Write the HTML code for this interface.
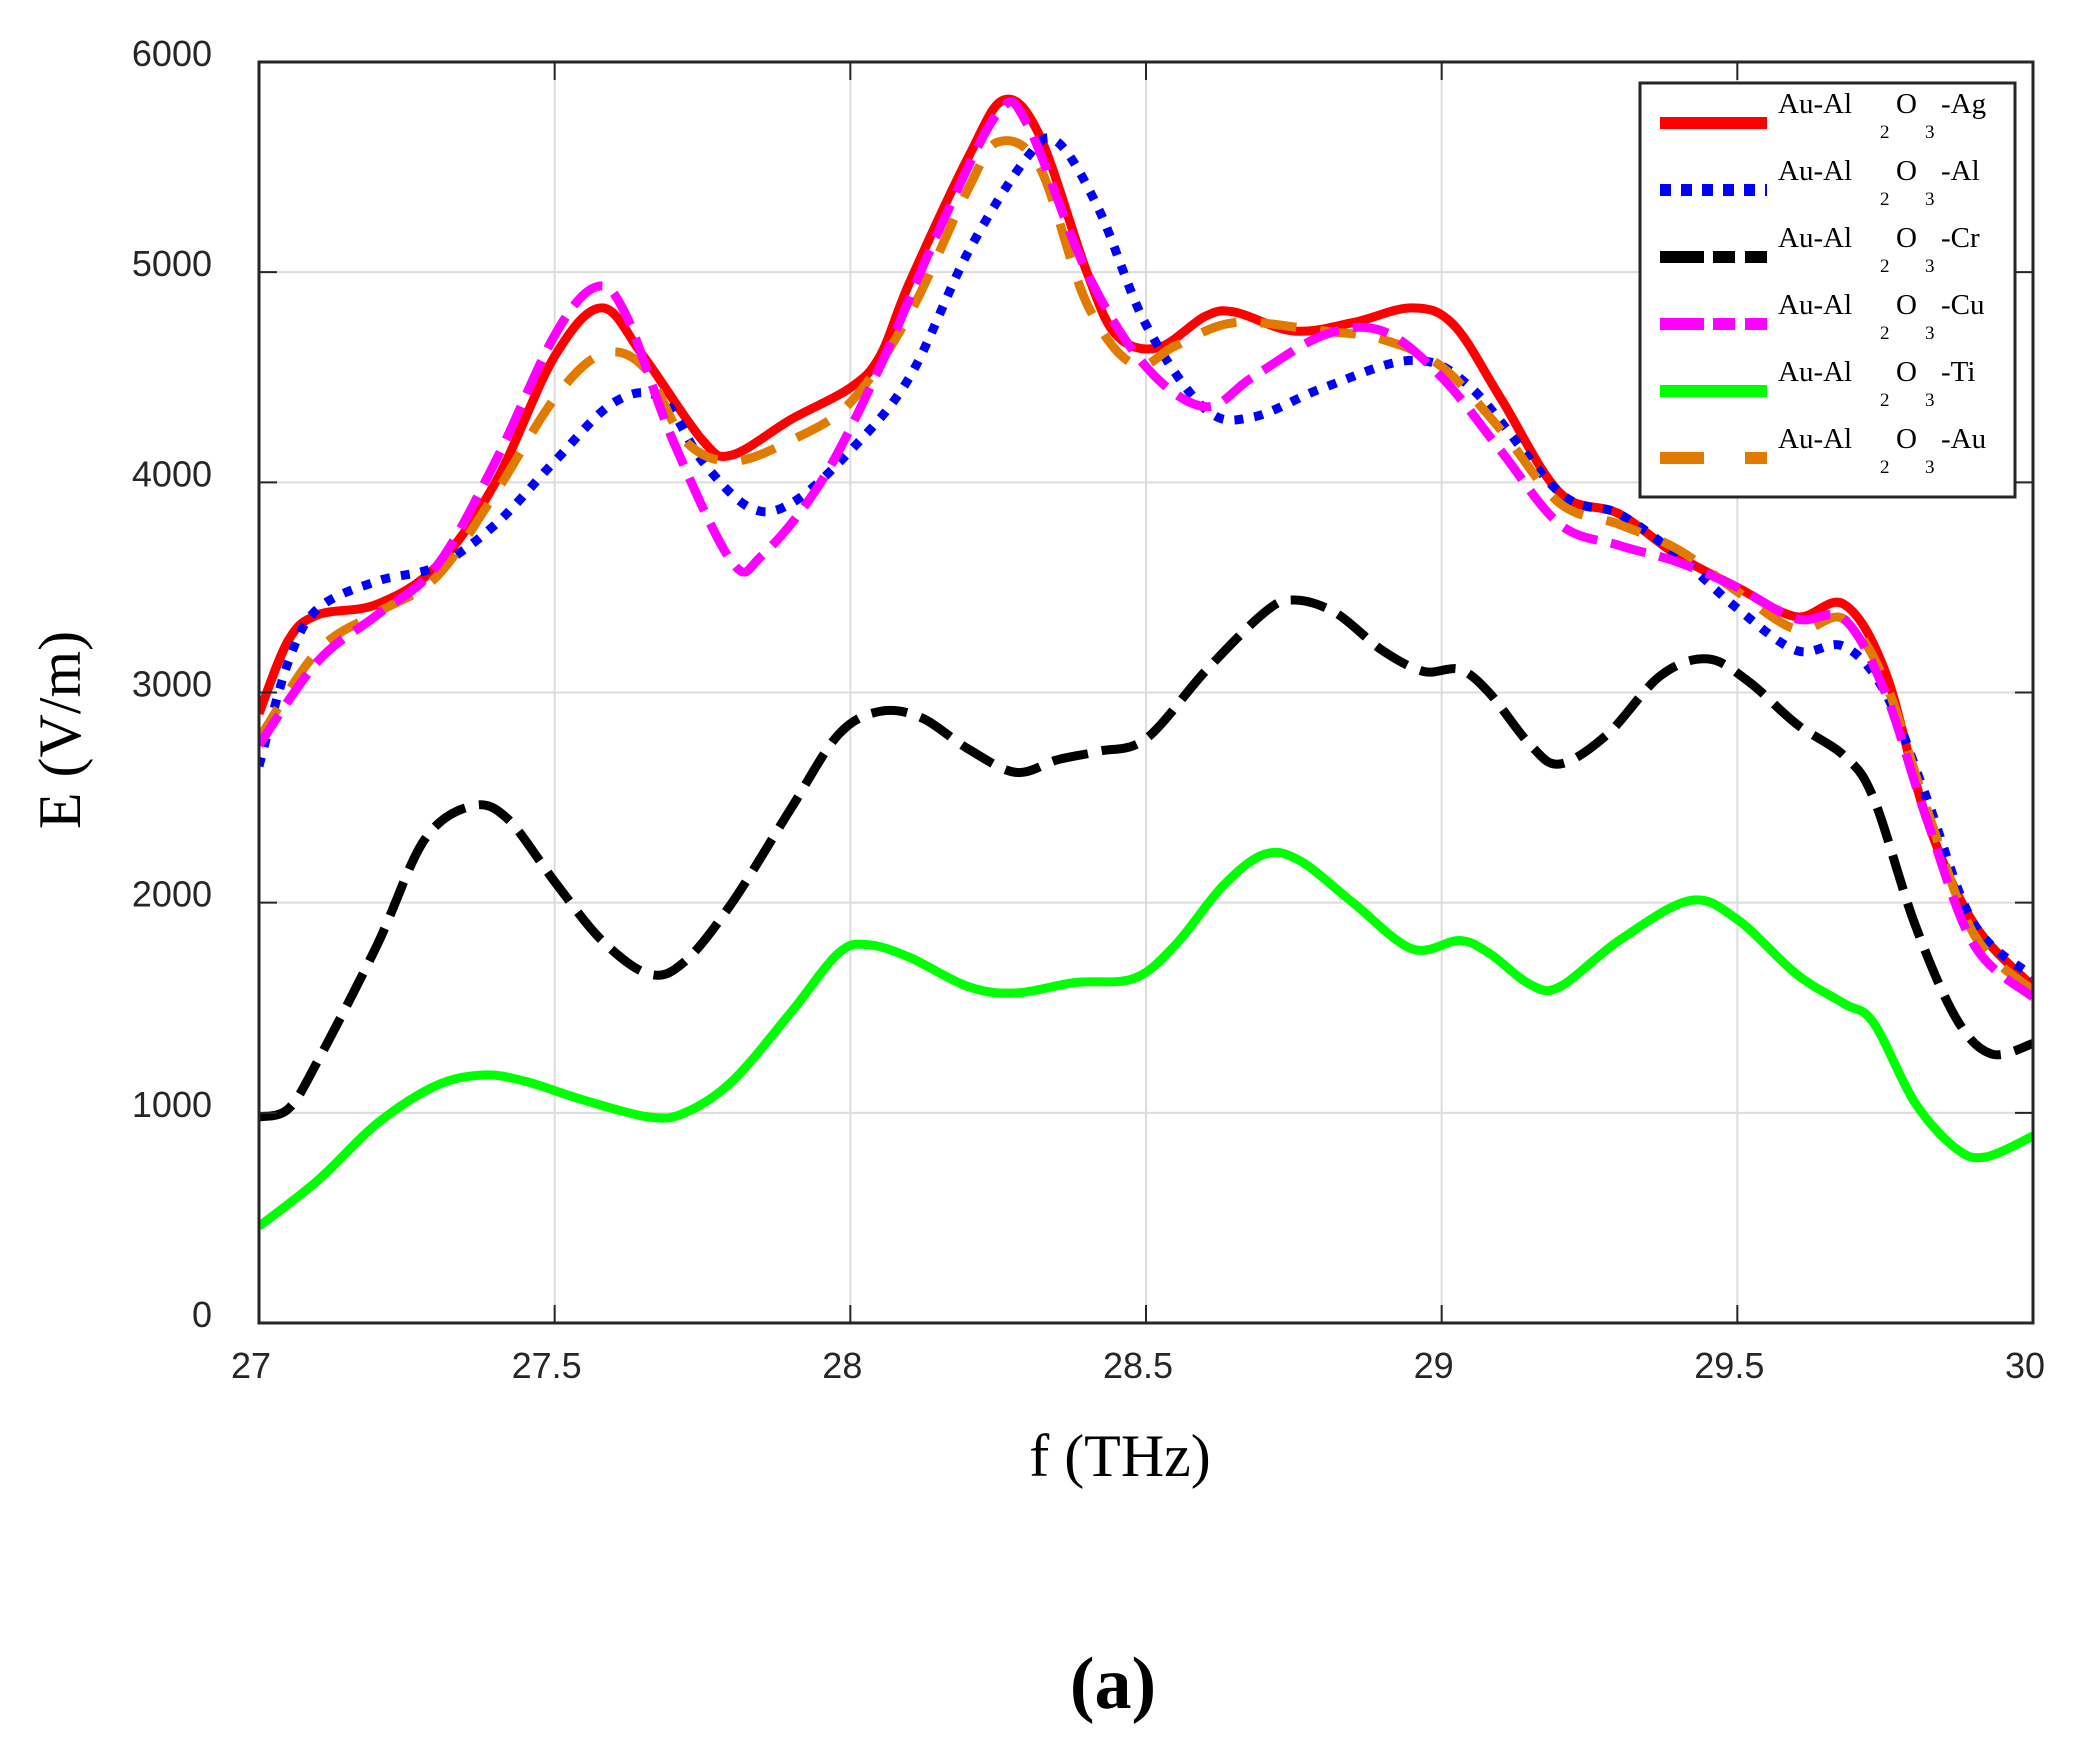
<!DOCTYPE html>
<html><head><meta charset="utf-8"><style>
body{margin:0;background:#fff}
svg{display:block}
.t{font-family:"Liberation Sans",sans-serif;font-size:36px;fill:#262626}
.s{font-family:"Liberation Serif",serif;fill:#000}
</style></head><body>
<svg id="c" width="2079" height="1742" xmlns="http://www.w3.org/2000/svg">
<defs><clipPath id="cp"><rect x="259" y="62" width="1774" height="1261"/></clipPath></defs>
<g id="grid" stroke="#dcdcdc" stroke-width="2"></g>
<g id="series" clip-path="url(#cp)" fill="none" stroke-width="9" stroke-linejoin="round"></g>
<rect x="259" y="62" width="1774" height="1261" fill="none" stroke="#262626" stroke-width="3"/>
<g id="ticks" stroke="#262626" stroke-width="2"></g>
<g id="labels"></g>
<text class="s" font-size="60" transform="translate(80,730) rotate(-90)" text-anchor="middle">E (V/m)</text>
<text class="s" font-size="60" x="1120" y="1476" text-anchor="middle">f (THz)</text>
<text class="s" font-size="74" font-weight="bold" x="1113" y="1708" text-anchor="middle">(a)</text>
<rect x="1640" y="83" width="375" height="414" fill="#fff" stroke="#262626" stroke-width="3"/>
<g id="leg"></g>
</svg>
<script>
const X=x=>259+(x-27)/3*1774, Y=y=>1323-y/6000*1261;
const ns="http://www.w3.org/2000/svg";
function el(p,t,a,txt){const e=document.createElementNS(ns,t);for(const k in a)e.setAttribute(k,a[k]);if(txt!==undefined)e.textContent=txt;document.getElementById(p).appendChild(e);return e;}
for(let i=1;i<6;i++){const x=X(27+i*0.5);el('grid','line',{x1:x,x2:x,y1:62,y2:1323});}
for(let j=1;j<6;j++){const y=Y(j*1000);el('grid','line',{x1:259,x2:2033,y1:y,y2:y});}
for(let i=0;i<=6;i++){const x=X(27+i*0.5);el('ticks','line',{x1:x,x2:x,y1:1323,y2:1305});el('ticks','line',{x1:x,x2:x,y1:62,y2:80});
 el('labels','text',{class:'t',x:x-8,y:1378,'text-anchor':'middle'},String(27+i*0.5));}
for(let j=0;j<=6;j++){const y=Y(j*1000);el('ticks','line',{x1:259,x2:277,y1:y,y2:y});el('ticks','line',{x1:2033,x2:2015,y1:y,y2:y});
 el('labels','text',{class:'t',x:212,y:y+4,'text-anchor':'end'},String(j*1000));}
const D={
red:[[27,2900],[27.05,3250],[27.1,3370],[27.2,3420],[27.3,3600],[27.4,4000],[27.5,4600],[27.58,4830],[27.65,4600],[27.75,4200],[27.8,4130],[27.9,4300],[28,4450],[28.05,4600],[28.1,4950],[28.2,5550],[28.26,5820],[28.32,5650],[28.4,5000],[28.45,4700],[28.52,4640],[28.6,4790],[28.65,4810],[28.75,4720],[28.85,4760],[28.95,4830],[29.02,4750],[29.1,4400],[29.2,3950],[29.3,3850],[29.4,3650],[29.5,3500],[29.6,3360],[29.68,3420],[29.75,3100],[29.82,2400],[29.9,1900],[30,1600]],
blue:[[27,2650],[27.05,3150],[27.1,3400],[27.2,3530],[27.3,3600],[27.4,3800],[27.5,4100],[27.6,4380],[27.68,4400],[27.75,4100],[27.83,3880],[27.9,3900],[28,4150],[28.1,4500],[28.2,5100],[28.3,5550],[28.35,5620],[28.42,5300],[28.5,4750],[28.6,4350],[28.68,4310],[28.8,4450],[28.95,4580],[29.05,4450],[29.2,3950],[29.3,3850],[29.4,3650],[29.5,3400],[29.6,3200],[29.68,3220],[29.75,3000],[29.82,2500],[29.9,1900],[30,1650]],
mag:[[27,2750],[27.1,3150],[27.2,3370],[27.3,3600],[27.4,4100],[27.5,4700],[27.57,4930],[27.62,4800],[27.7,4200],[27.8,3620],[27.85,3650],[27.95,4000],[28.05,4550],[28.15,5200],[28.25,5760],[28.3,5700],[28.4,5000],[28.5,4550],[28.6,4360],[28.68,4500],[28.8,4700],[28.9,4720],[29,4500],[29.1,4150],[29.2,3800],[29.3,3700],[29.4,3620],[29.5,3500],[29.6,3350],[29.68,3350],[29.75,3000],[29.82,2400],[29.9,1800],[30,1550]],
org:[[27,2780],[27.1,3200],[27.2,3380],[27.3,3550],[27.4,3950],[27.5,4400],[27.58,4610],[27.65,4550],[27.72,4200],[27.8,4100],[27.9,4200],[28,4380],[28.1,4800],[28.2,5400],[28.25,5620],[28.32,5500],[28.4,4850],[28.48,4560],[28.55,4650],[28.65,4760],[28.8,4720],[28.9,4680],[29,4550],[29.1,4250],[29.2,3900],[29.3,3800],[29.4,3680],[29.5,3480],[29.6,3300],[29.68,3350],[29.75,3050],[29.82,2450],[29.9,1850],[30,1580]],
blk:[[27,980],[27.05,1020],[27.1,1250],[27.2,1800],[27.28,2300],[27.36,2460],[27.42,2400],[27.5,2100],[27.58,1820],[27.66,1660],[27.72,1720],[27.8,2000],[27.9,2450],[27.98,2800],[28.05,2910],[28.12,2880],[28.2,2730],[28.28,2620],[28.35,2680],[28.42,2720],[28.5,2780],[28.6,3100],[28.7,3380],[28.75,3440],[28.82,3380],[28.9,3200],[28.97,3100],[29.03,3110],[29.08,3000],[29.15,2750],[29.2,2660],[29.28,2800],[29.37,3080],[29.45,3160],[29.52,3050],[29.6,2850],[29.68,2700],[29.73,2500],[29.8,1900],[29.87,1450],[29.93,1280],[30,1330]],
grn:[[27,460],[27.1,680],[27.2,950],[27.3,1130],[27.38,1180],[27.45,1150],[27.55,1060],[27.66,980],[27.72,1000],[27.8,1150],[27.9,1480],[27.98,1760],[28.03,1800],[28.1,1740],[28.2,1600],[28.28,1570],[28.38,1620],[28.48,1640],[28.55,1800],[28.63,2080],[28.7,2230],[28.76,2200],[28.85,2000],[28.95,1780],[29.03,1820],[29.08,1760],[29.15,1610],[29.2,1600],[29.3,1820],[29.42,2010],[29.5,1920],[29.6,1660],[29.68,1520],[29.73,1430],[29.8,1050],[29.87,830],[29.92,790],[30,890]]};
function path(pts){const p=pts.map(a=>[X(a[0]),Y(a[1])]);let d=`M${p[0][0]},${p[0][1]}`;
 for(let i=0;i<p.length-1;i++){const p0=p[Math.max(0,i-1)],p1=p[i],p2=p[i+1],p3=p[Math.min(p.length-1,i+2)];
 const c1=[p1[0]+(p2[0]-p0[0])/6,p1[1]+(p2[1]-p0[1])/6],c2=[p2[0]-(p3[0]-p1[0])/6,p2[1]-(p3[1]-p1[1])/6];
 d+=`C${c1[0].toFixed(1)},${c1[1].toFixed(1)} ${c2[0].toFixed(1)},${c2[1].toFixed(1)} ${p2[0].toFixed(1)},${p2[1].toFixed(1)}`;}return d;}
const S=[['grn','#00ff00',''],['blk','#000','36 14'],['red','#ff0000',''],['blue','#0000ff','9 11'],['org','#e07b00','36 24'],['mag','#ff00ff','36 14']];
for(const [k,c,da] of S){const a={d:path(D[k]),stroke:c};if(da)a['stroke-dasharray']=da;el('series','path',a);}
const L=[['#ff0000','','Ag'],['#0000ff','11 10','Al'],['#000','44 9 22 10 22','Cr'],['#ff00ff','44 9 22 10 22','Cu'],['#00ff00','','Ti'],['#e07b00','44 41 22','Au']];
L.forEach((l,i)=>{const y=123+i*67;const a={x1:1660,x2:1767,y1:y,y2:y,stroke:l[0],'stroke-width':12};if(l[1])a['stroke-dasharray']=l[1];el('leg','line',a);
 el('leg','text',{class:'s','font-size':29,x:1778,y:y-10},'Au-Al');
 el('leg','text',{class:'s','font-size':29,x:1896,y:y-10},'O');
 el('leg','text',{class:'s','font-size':19,x:1880,y:y+15},'2');
 el('leg','text',{class:'s','font-size':19,x:1925,y:y+15},'3');
 el('leg','text',{class:'s','font-size':29,x:1941,y:y-10},'-'+l[2]);});
</script>
</body></html>
